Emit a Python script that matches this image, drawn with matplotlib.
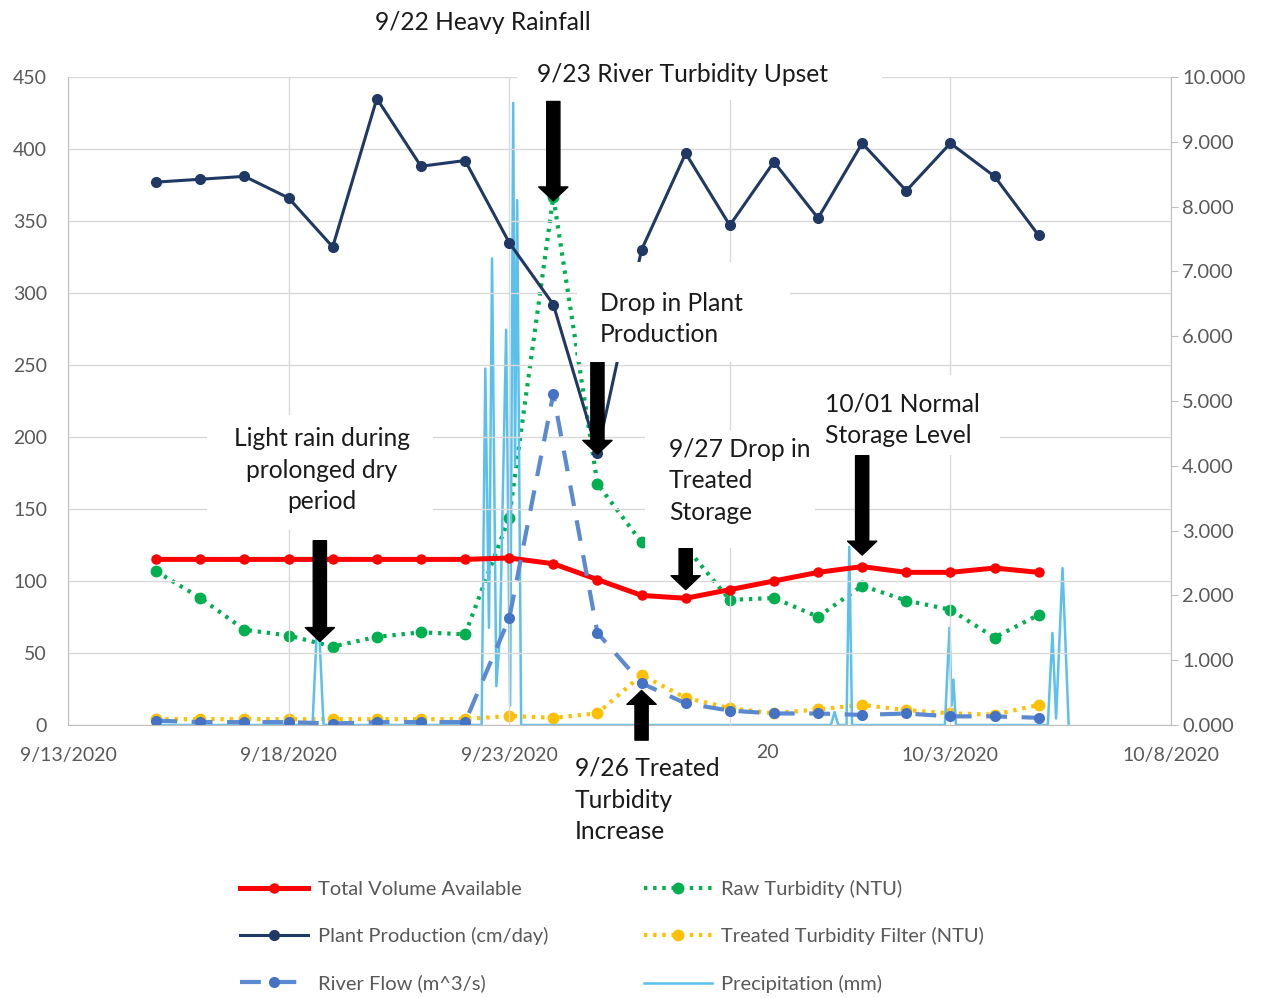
import numpy as np
import pandas as pd
import matplotlib
matplotlib.use("Agg")
import matplotlib.pyplot as plt
import matplotlib.dates as mdates
from matplotlib.patches import Rectangle

plt.rcParams['font.family'] = ['Lato', 'DejaVu Sans']

# daily data, 9/15/2020 .. 10/5/2020
dates = pd.date_range('2020-09-15', '2020-10-05', freq='D')
total_volume = [115, 115, 115, 115, 115, 115, 115, 115, 116, 112, 101, 90,
                88, 94, 100, 106, 110, 106, 106, 109, 106]
plant_production = [377, 379, 381, 366, 332, 435, 388, 392, 335, 292, 189, 330,
                    397, 347, 391, 352, 404, 371, 404, 381, 340]
river_flow = [3, 2, 2, 2, 1, 2, 2, 2, 74, 230, 64, 29,
              15, 10, 8, 8, 7, 8, 6, 6, 5]
raw_turbidity = [2.37, 1.96, 1.47, 1.38, 1.21, 1.36, 1.43, 1.40, 3.20, 8.15, 3.72, 2.82,
                 2.75, 1.93, 1.96, 1.67, 2.15, 1.92, 1.78, 1.35, 1.70]
treated_turbidity = [0.09, 0.09, 0.09, 0.09, 0.09, 0.09, 0.09, 0.09, 0.14, 0.11, 0.18, 0.77,
                     0.42, 0.26, 0.18, 0.24, 0.31, 0.23, 0.18, 0.16, 0.31]

# precipitation events (mm)
precip_time = pd.to_datetime([
    '2020-09-15 00:00', '2020-09-18 13:00', '2020-09-18 16:00', '2020-09-18 19:00',
    '2020-09-22 09:00', '2020-09-22 11:00', '2020-09-22 13:00', '2020-09-22 14:40',
    '2020-09-22 17:00', '2020-09-22 19:00', '2020-09-22 22:20', '2020-09-23 00:30',
    '2020-09-23 02:10', '2020-09-23 03:10', '2020-09-23 04:20', '2020-09-23 06:30',
    '2020-09-30 07:00', '2020-09-30 09:00', '2020-09-30 11:00', '2020-09-30 15:30',
    '2020-09-30 17:00', '2020-09-30 18:30', '2020-10-02 21:00', '2020-10-02 23:30',
    '2020-10-03 00:40', '2020-10-03 01:40', '2020-10-03 03:00', '2020-10-05 05:00',
    '2020-10-05 07:30', '2020-10-05 09:30', '2020-10-05 13:00', '2020-10-05 16:20'])
precip_mm = [0, 0, 1.85, 0,
             0, 5.5, 1.5, 7.2,
             0.6, 1.4, 6.1, 0.3,
             9.6, 4.0, 8.1, 0,
             0, 0.2, 0, 0,
             2.75, 0, 0, 1.5,
             0.3, 0.7, 0, 0,
             1.42, 0.1, 2.42, 0]

# x tick labels; the 9/28 one is mostly hidden behind a text box, only "20" shows
xtick_dates = pd.date_range('2020-09-13', '2020-10-08', freq='5D')
xtick_labels = ['9/13/2020', '9/18/2020', '9/23/2020', '', '10/3/2020', '10/8/2020']

W, H = 1262, 998


def fx(x):
    return x / W


def fy(y):
    return 1 - y / H


fig = plt.figure(figsize=(W / 100, H / 100), dpi=100)
ax = fig.add_axes([fx(68), fy(725), fx(1171) - fx(68), fy(77) - fy(725)])
ax2 = ax.twinx()
ax.set_zorder(ax2.get_zorder() + 1)
ax.patch.set_visible(False)

# right-axis series
l_raw, = ax2.plot(dates, raw_turbidity, color='#00B050', lw=3, ls=(0, (0.8, 1.4)),
                  marker='o', ms=7.5, label='Raw Turbidity (NTU)')
l_trt, = ax2.plot(dates, treated_turbidity, color='#FFC000', lw=3, ls=(0, (0.8, 1.4)),
                  marker='o', ms=7.5, label='Treated Turbidity Filter (NTU)')
l_pr, = ax2.plot(precip_time, precip_mm, color='#5BC0EB', lw=1.8,
                 label='Precipitation (mm)')

# left-axis series
l_tv, = ax.plot(dates, total_volume, color='#FF0000', lw=3.6, marker='o', ms=6.5,
                label='Total Volume Available')
l_pp, = ax.plot(dates, plant_production, color='#203864', lw=2.2, marker='o', ms=7,
                label='Plant Production (cm/day)')
l_rf, = ax.plot(dates, river_flow, color='#5B8AD0', lw=3, ls=(0, (5, 3.5)),
                marker='o', ms=7, mfc='#4472C4', mec='#4472C4',
                label='River Flow (m^3/s)')

ax.set_xlim(pd.Timestamp('2020-09-13'), pd.Timestamp('2020-10-08'))
ax.set_ylim(0, 450)
ax2.set_ylim(0, 10)
ax.set_xticks(xtick_dates)
ax.set_xticklabels(xtick_labels)
ax.set_yticks(np.arange(0, 451, 50))
ax2.set_yticks(np.arange(0, 11, 1))
ax2.yaxis.set_major_formatter(plt.FormatStrFormatter('%.3f'))

ax.grid(True, color='#d9d9d9', lw=1)
ax.set_axisbelow(True)
for a in (ax, ax2):
    for s in a.spines.values():
        s.set_color('#bfbfbf')
    a.spines['top'].set_visible(False)
ax.spines['right'].set_visible(False)
ax2.spines['left'].set_visible(False)
ax2.spines['bottom'].set_visible(False)
ax.tick_params(axis='y', length=0, pad=15, labelsize=14, labelcolor='#595959')
ax.tick_params(axis='x', length=0, pad=16, labelsize=14, labelcolor='#595959')
ax2.tick_params(axis='y', length=5, color='#bfbfbf', pad=3, labelsize=14.5,
                labelcolor='#595959')
# visible tail of the covered 9/28/2020 label
fig.text(fx(767), fy(753), '20', ha='center', va='center', fontsize=14,
         color='#595959')

# arrows (drawn in left-axis units)
arrow_kw = dict(facecolor='black', edgecolor='black', width=9.5, headwidth=21,
                headlength=10, shrink=0)
arrows = [
    (pd.Timestamp('2020-09-24'), 364, 433),
    (pd.Timestamp('2020-09-25'), 188, 252),
    (pd.Timestamp('2020-09-18 17:00'), 58, 128),
    (pd.Timestamp('2020-09-27'), 94, 125),
    (pd.Timestamp('2020-10-01'), 118, 187),
    (pd.Timestamp('2020-09-26'), 24, -10.5),
]
for xd, tip, tail in arrows:
    ax.annotate('', xy=(xd, tip), xytext=(xd, tail), arrowprops=arrow_kw,
                annotation_clip=False).arrow_patch.set_clip_on(False)

# white text boxes (pixel extents)
boxes = [(517, 55, 882, 100), (577, 262, 790, 362), (207, 415, 433, 530),
         (645, 430, 815, 548), (815, 375, 1000, 455)]
for x0, y0, x1, y1 in boxes:
    fig.add_artist(Rectangle((fx(x0), fy(y1)), fx(x1) - fx(x0), fy(y0) - fy(y1),
                             transform=fig.transFigure, facecolor='white',
                             edgecolor='none', zorder=2))

txt = dict(fontsize=17.7, color='#1a1a1a', va='center', linespacing=1.47, zorder=3)
fig.text(fx(483), fy(22), '9/22 Heavy Rainfall', ha='center', **txt)
fig.text(fx(537), fy(75), '9/23 River Turbidity Upset', ha='left', **txt)
fig.text(fx(600), fy(319), 'Drop in Plant\nProduction', ha='left', **txt)
fig.text(fx(322), fy(470), 'Light rain during\nprolonged dry\nperiod', ha='center',
         multialignment='center', **txt)
fig.text(fx(669), fy(481), '9/27 Drop in\nTreated\nStorage', ha='left', **txt)
fig.text(fx(825), fy(420), '10/01 Normal\nStorage Level', ha='left', **txt)
fig.text(fx(575), fy(800), '9/26 Treated\nTurbidity\nIncrease', ha='left', **txt)

handles = [l_tv, l_pp, l_rf, l_raw, l_trt, l_pr]
fig.legend(handles, [h.get_label() for h in handles], ncol=2, loc='upper left',
           bbox_to_anchor=(fx(240), fy(880)), frameon=False, fontsize=14.5,
           labelcolor='#595959', handlelength=3.4, handletextpad=0.45,
           columnspacing=4.75, labelspacing=1.45, borderpad=0, borderaxespad=0,
           numpoints=1)

fig.savefig('out.png', dpi=100)
